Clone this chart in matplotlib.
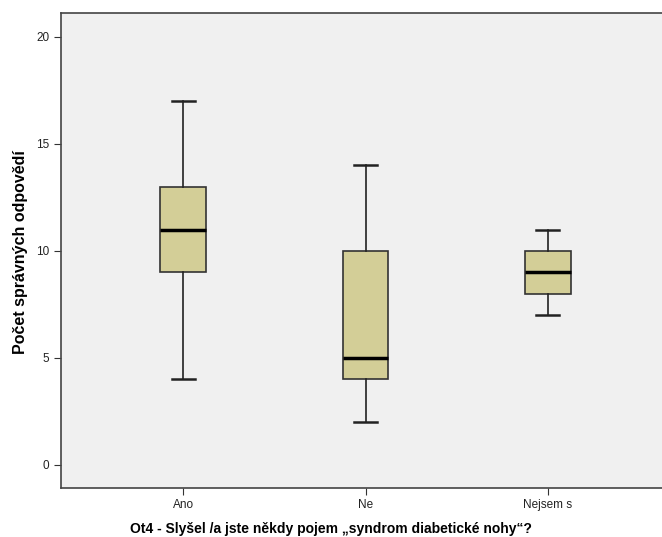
import matplotlib.pyplot as plt

categories = ["Ano", "Ne", "Nejsem s"]
whisker_low = [4, 2, 7]
q1 = [9, 4, 8]
median = [11, 5, 9]
q3 = [13, 10, 10]
whisker_high = [17, 14, 11]

plt.rcParams['font.family'] = ['Liberation Sans', 'DejaVu Sans']

fig = plt.figure(figsize=(6.62, 5.37), dpi=100)
ax = fig.add_axes([61/662, 49/537, 609/662, 475/537])
ax.set_facecolor('#f0f0f0')

stats = []
for i, c in enumerate(categories):
    stats.append({'label': c, 'whislo': whisker_low[i], 'q1': q1[i], 'med': median[i],
                  'q3': q3[i], 'whishi': whisker_high[i], 'fliers': []})

ax.bxp(stats, positions=[1, 2, 3], widths=0.25, patch_artist=True, showfliers=False,
       boxprops=dict(facecolor='#d3ce97', edgecolor='#333333', linewidth=1.2),
       whiskerprops=dict(color='#222222', linewidth=1.2),
       capprops=dict(color='#222222', linewidth=1.8),
       medianprops=dict(color='black', linewidth=2.5),
       capwidths=0.125)

ax.set_xlim(0.33, 3.67)
ax.set_ylim(-1.08, 21.12)
ax.set_yticks([0, 5, 10, 15, 20])
ax.tick_params(axis='both', labelsize=8.5, labelcolor='#222222', color='#333333', length=5, direction='out')
ax.tick_params(axis='x', pad=3)
for s in ax.spines.values():
    s.set_color('#444444')
    s.set_linewidth(1.2)

ax.set_ylabel("Počet správných odpovědí", fontsize=11.5, fontweight='bold')
ax.yaxis.set_label_coords((21 - 61) / 609, (537 - 252 - 49) / 475)
ax.set_xlabel("Ot4 - Slyšel /a jste někdy pojem \u201esyndrom diabetické nohy\u201c?",
              fontsize=10, fontweight='bold')
ax.xaxis.set_label_coords((331 - 61) / 609, -(529 - 488) / 475)
ax.xaxis.label.set_va('center')
ax.yaxis.label.set_va('center')

fig.savefig('out.png', dpi=100)
